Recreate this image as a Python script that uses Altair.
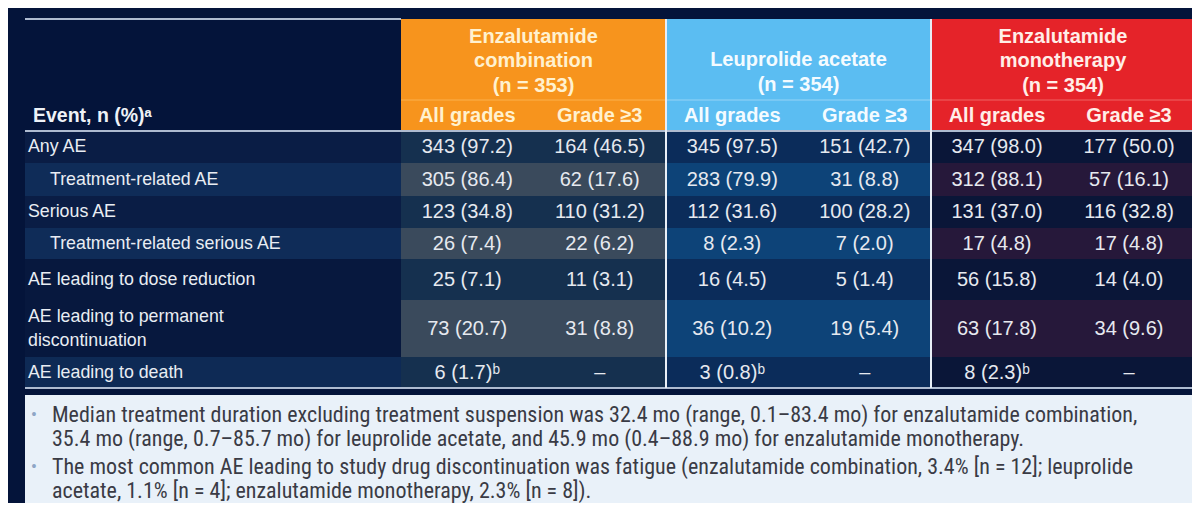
import altair as alt
import pandas as pd

# ---------------- data ----------------
events = ["Any AE", "Treatment-related AE", "Serious AE", "Treatment-related serious AE",
          "AE leading to dose reduction", "AE leading to permanent\ndiscontinuation",
          "AE leading to death"]
indented = [False, True, False, True, False, False, False]

combo_all = ["343 (97.2)", "305 (86.4)", "123 (34.8)", "26 (7.4)", "25 (7.1)", "73 (20.7)", "6 (1.7)ᵇ"]
combo_g3 = ["164 (46.5)", "62 (17.6)", "110 (31.2)", "22 (6.2)", "11 (3.1)", "31 (8.8)", "–"]
leup_all = ["345 (97.5)", "283 (79.9)", "112 (31.6)", "8 (2.3)", "16 (4.5)", "36 (10.2)", "3 (0.8)ᵇ"]
leup_g3 = ["151 (42.7)", "31 (8.8)", "100 (28.2)", "7 (2.0)", "5 (1.4)", "19 (5.4)", "–"]
mono_all = ["347 (98.0)", "312 (88.1)", "131 (37.0)", "17 (4.8)", "56 (15.8)", "63 (17.8)", "8 (2.3)ᵇ"]
mono_g3 = ["177 (50.0)", "57 (16.1)", "116 (32.8)", "17 (4.8)", "14 (4.0)", "34 (9.6)", "–"]

groups = ["Enzalutamide\ncombination\n(n = 353)", "Leuprolide acetate\n(n = 354)",
          "Enzalutamide\nmonotherapy\n(n = 354)"]
subheaders = ["All grades", "Grade ≥3"]
stub_header = "Event, n (%)ᵃ"

notes = [
    ["Median treatment duration excluding treatment suspension was 32.4 mo (range, 0.1–83.4 mo) for enzalutamide combination,",
     "35.4 mo (range, 0.7–85.7 mo) for leuprolide acetate, and 45.9 mo (0.4–88.9 mo) for enzalutamide monotherapy."],
    ["The most common AE leading to study drug discontinuation was fatigue (enzalutamide combination, 3.4% [n = 12]; leuprolide",
     "acetate, 1.1% [n = 4]; enzalutamide monotherapy, 2.3% [n = 8])."],
]

# ---------------- layout / style ----------------
W, H = 1184, 495
X_LEFT, X_RIGHT = 25, 1195
GX = [401, 666, 931, 1195]
TOP, SUB_TOP, HEAD_BOTTOM = 19, 100, 131
ROW_H = [32, 33, 32, 31, 41, 57, 31]
NOTE_TOP = 395
NOTE_Y = [[415, 439], [467, 491]]

BG = "#04143a"
HEAD_FILL = ["#f7941d", "#5bbdf2", "#e52329"]
HEAD_TEXT = ["#fff1cf", "#f4fbff", "#ffeee8"]
SUB_LINE = ["#fbb14f", "#97d4f6", "#ef6464"]
STUB_FILL = ["#0a1d45", "#0f2c58", "#0a1d45", "#0f2c58", "#07183e", "#07183e", "#0e2a55"]
BODY_FILL = [["#15304f", "#3a4a5c"], ["#0b2c5a", "#0d4378"], ["#0a1638", "#26183a"]]
FONT = "Liberation Sans"

rows_top = [HEAD_BOTTOM]
for h in ROW_H:
    rows_top.append(rows_top[-1] + h)

values = [[combo_all, combo_g3], [leup_all, leup_g3], [mono_all, mono_g3]]

# rectangles
rects = []
for g in range(3):
    rects.append(dict(x=GX[g], x2=GX[g + 1], y=TOP, y2=HEAD_BOTTOM, fill=HEAD_FILL[g]))
for i in range(len(events)):
    y0, y1 = rows_top[i], rows_top[i + 1]
    rects.append(dict(x=X_LEFT, x2=GX[0], y=y0, y2=y1, fill=STUB_FILL[i]))
    for g in range(3):
        rects.append(dict(x=GX[g], x2=GX[g + 1], y=y0, y2=y1, fill=BODY_FILL[g][i % 2]))
rects.append(dict(x=X_LEFT, x2=X_RIGHT, y=NOTE_TOP, y2=503, fill="#e9f1f9"))
rect_df = pd.DataFrame(rects)

# rules
rules = [
    dict(x=X_LEFT, x2=GX[0], y=TOP, y2=TOP, c="#aebbd0", w=2),
    dict(x=X_LEFT, x2=X_RIGHT, y=HEAD_BOTTOM, y2=HEAD_BOTTOM, c="#aebbd0", w=2),
    dict(x=X_LEFT, x2=X_RIGHT, y=rows_top[-1], y2=rows_top[-1], c="#aebbd0", w=2),
]
for g in range(3):
    rules.append(dict(x=GX[g], x2=GX[g + 1], y=SUB_TOP, y2=SUB_TOP, c=SUB_LINE[g], w=1))
for xg in GX[1:3]:
    rules.append(dict(x=xg, x2=xg, y=TOP, y2=rows_top[-1], c="#e8eef6", w=2))
rule_df = pd.DataFrame(rules)

# texts
head_txt = []
LH = 24.5
for g, title in enumerate(groups):
    lines = title.split("\n")
    cx = (GX[g] + GX[g + 1]) / 2
    mid = 61 if len(lines) == 3 else 72.5
    for k, ln in enumerate(lines):
        head_txt.append(dict(x=cx, y=mid + (k - (len(lines) - 1) / 2) * LH, t=ln, c=HEAD_TEXT[g]))
    for s, sh in enumerate(subheaders):
        sx = GX[g] + (GX[g + 1] - GX[g]) * (0.25 + 0.5 * s)
        head_txt.append(dict(x=sx, y=116, t=sh, c=HEAD_TEXT[g]))
head_df = pd.DataFrame(head_txt)

stub_df = pd.DataFrame([dict(x=33, y=116, t=stub_header, c="#eef2f7")])

lab_txt, val_txt = [], []
for i, ev in enumerate(events):
    cy = (rows_top[i] + rows_top[i + 1]) / 2
    lines = ev.split("\n")
    for k, ln in enumerate(lines):
        lab_txt.append(dict(x=50 if indented[i] else 28,
                            y=cy + (k - (len(lines) - 1) / 2) * 24, t=ln))
    for g in range(3):
        for s in range(2):
            sx = GX[g] + (GX[g + 1] - GX[g]) * (0.25 + 0.5 * s)
            val_txt.append(dict(x=sx, y=cy, t=values[g][s][i]))
lab_df = pd.DataFrame(lab_txt)
val_df = pd.DataFrame(val_txt)

note_txt, bullet_txt = [], []
for n, lines in enumerate(notes):
    bullet_txt.append(dict(x=34, y=NOTE_Y[n][0], t="•"))
    for k, ln in enumerate(lines):
        note_txt.append(dict(x=52, y=NOTE_Y[n][k], t=ln))
note_df = pd.DataFrame(note_txt)
bullet_df = pd.DataFrame(bullet_txt)

# ---------------- chart ----------------
xs = alt.Scale(domain=[8, 8 + W], nice=False, zero=False)
ys = alt.Scale(domain=[8, 8 + H], nice=False, zero=False, reverse=True)
X = lambda f: alt.X(f, type="quantitative", scale=xs, axis=None)
Y = lambda f: alt.Y(f, type="quantitative", scale=ys, axis=None)

rect_layer = alt.Chart(rect_df).mark_rect().encode(
    x=X("x"), x2="x2", y=Y("y"), y2="y2", color=alt.Color("fill:N", scale=None))

rule_layer = alt.Chart(rule_df).mark_rule().encode(
    x=X("x"), x2="x2", y=Y("y"), y2="y2",
    color=alt.Color("c:N", scale=None), strokeWidth=alt.StrokeWidth("w:Q", scale=None))

head_layer = alt.Chart(head_df).mark_text(
    font=FONT, fontSize=20, fontWeight="bold", align="center", baseline="middle").encode(
    x=X("x"), y=Y("y"), text="t:N", color=alt.Color("c:N", scale=None))

stub_layer = alt.Chart(stub_df).mark_text(
    font=FONT, fontSize=19.5, fontWeight="bold", align="left", baseline="middle").encode(
    x=X("x"), y=Y("y"), text="t:N", color=alt.Color("c:N", scale=None))

lab_layer = alt.Chart(lab_df).mark_text(
    font=FONT, fontSize=17.8, align="left", baseline="middle", color="#e9edf3").encode(
    x=X("x"), y=Y("y"), text="t:N")

val_layer = alt.Chart(val_df).mark_text(
    font=FONT, fontSize=20, align="center", baseline="middle", color="#e6e9ef").encode(
    x=X("x"), y=Y("y"), text="t:N")

note_layer = alt.Chart(note_df).mark_text(
    font="Liberation Sans Narrow, Roboto Condensed, Liberation Sans", fontSize=22,
    align="left", baseline="middle", color="#3a3b45").encode(
    x=X("x"), y=Y("y"), text="t:N")

bullet_layer = alt.Chart(bullet_df).mark_text(
    font=FONT, fontSize=14, align="center", baseline="middle", color="#8ea6c6").encode(
    x=X("x"), y=Y("y"), text="t:N")

chart = alt.layer(rect_layer, rule_layer, head_layer, stub_layer, lab_layer, val_layer,
                  note_layer, bullet_layer).properties(
    width=W, height=H, padding=0, autosize=alt.AutoSizeParams(type="none"),
    background=BG).configure_view(stroke=None)

chart.save("out.html", embed_options={"renderer": "svg", "actions": False})
